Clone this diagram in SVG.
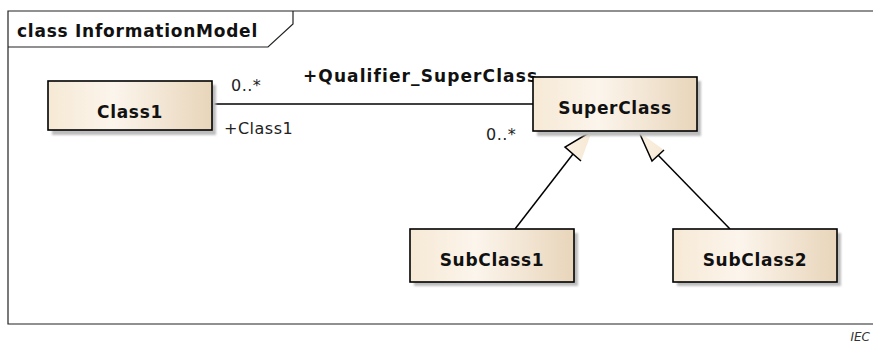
<svg xmlns="http://www.w3.org/2000/svg" width="873" height="344" viewBox="0 0 873 344">
<defs>
<linearGradient id="fill" x1="0" y1="0" x2="1" y2="0">
<stop offset="0" stop-color="#f6e9d5"/>
<stop offset="0.4" stop-color="#fcf5ec"/>
<stop offset="1" stop-color="#e8d5ba"/>
</linearGradient>
<linearGradient id="tri" x1="0" y1="0" x2="1" y2="0">
<stop offset="0" stop-color="#fbf1e3"/>
<stop offset="1" stop-color="#f6e8d4"/>
</linearGradient>
<filter id="blur" x="-10%" y="-10%" width="120%" height="130%"><feGaussianBlur stdDeviation="0.8"/></filter>
</defs>
<style>
.frame{fill:none;stroke:#222;stroke-width:1.2}
.box{fill:url(#fill);stroke:#000;stroke-width:1.6}
.shadow{fill:#bdbdbd;filter:url(#blur)}
.name{font-family:"DejaVu Sans",sans-serif;font-weight:bold;font-size:17px;letter-spacing:0.7px;fill:#111;text-anchor:middle}
.lbl{font-family:"DejaVu Sans",sans-serif;font-size:16px;letter-spacing:0.5px;fill:#222}
.role{font-family:"DejaVu Sans",sans-serif;font-weight:bold;font-size:17px;letter-spacing:1.1px;fill:#111}
.conn{fill:none;stroke:#000;stroke-width:1.5}
</style>
<g id="frame">
<path class="frame" d="M873 11 H8 V324 H873"/>
<path class="frame" d="M8 47 H268 L293 24 V11"/>
<text x="17" y="37" class="role" style="letter-spacing:0.75px">class InformationModel</text>
</g>
<g id="connectors">
<line class="conn" x1="212" y1="104" x2="533" y2="104"/>
<text x="231" y="91" class="lbl">0..*</text>
<text x="224" y="134" class="lbl">+Class1</text>
<text x="303" y="82" class="role">+Qualifier_SuperClass</text>
<text x="486" y="140" class="lbl">0..*</text>
<line class="conn" x1="573" y1="154" x2="515" y2="229"/>
<polygon points="592,131 565,147 581,161" fill="url(#tri)"/>
<polyline class="conn" points="592,131 565,147 581,161"/>
<line class="conn" x1="658" y1="155" x2="730" y2="229"/>
<polygon points="639,132 652,161 664,150" fill="url(#tri)"/>
<polyline class="conn" points="639,132 652,161 664,150"/>
</g>
<g id="Class1">
<rect class="shadow" x="52" y="85" width="164" height="50"/>
<rect class="box" x="48" y="81" width="164" height="49"/>
<text x="130" y="118" class="name">Class1</text>
</g>
<g id="SuperClass">
<rect class="shadow" x="537" y="81" width="164" height="55"/>
<rect class="box" x="533" y="77" width="164" height="54"/>
<text x="615" y="114" class="name">SuperClass</text>
</g>
<g id="SubClass1">
<rect class="shadow" x="414" y="233" width="164" height="53"/>
<rect class="box" x="410" y="229" width="164" height="53"/>
<text x="492" y="266" class="name">SubClass1</text>
</g>
<g id="SubClass2">
<rect class="shadow" x="677" y="233" width="164" height="53"/>
<rect class="box" x="673" y="229" width="164" height="53"/>
<text x="755" y="266" class="name">SubClass2</text>
</g>
<text x="870" y="341" text-anchor="end" font-family="DejaVu Sans, sans-serif" font-style="italic" font-size="12" fill="#333">IEC</text>
</svg>
